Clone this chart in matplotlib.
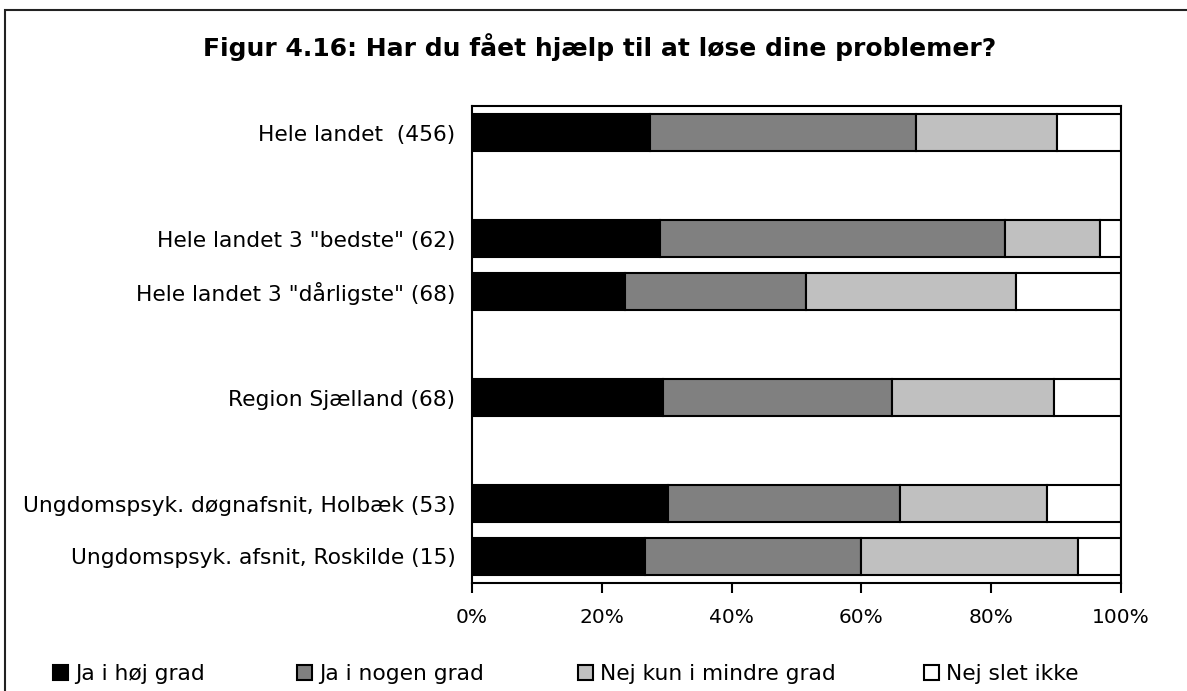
import matplotlib
matplotlib.use("Agg")
import matplotlib.pyplot as plt
from matplotlib.patches import Rectangle

# rows from top to bottom, empty strings are spacer rows
labels = ["Hele landet  (456)", "", 'Hele landet 3 "bedste" (62)',
          'Hele landet 3 "dårligste" (68)', "", "Region Sjælland (68)", "",
          "Ungdomspsyk. døgnafsnit, Holbæk (53)",
          "Ungdomspsyk. afsnit, Roskilde (15)"]
ja_hoej = [27.5, 0, 29.0, 23.5, 0, 29.4, 0, 30.2, 26.7]
ja_nogen = [40.9, 0, 53.2, 27.9, 0, 35.3, 0, 35.8, 33.3]
nej_mindre = [21.7, 0, 14.5, 32.4, 0, 25.0, 0, 22.6, 33.3]
nej_slet = [9.9, 0, 3.3, 16.2, 0, 10.3, 0, 11.4, 6.7]
series_names = ["Ja i høj grad", "Ja i nogen grad", "Nej kun i mindre grad", "Nej slet ikke"]
colors = ["#000000", "#808080", "#c0c0c0", "#ffffff"]
xticks = [0, 20, 40, 60, 80, 100]

plt.rcParams["font.family"] = ["DejaVu Sans"]

fig = plt.figure(figsize=(11.87, 6.91), dpi=100)
ax = fig.add_axes([472 / 1187, 1 - 583 / 691, 649 / 1187, 477 / 691])

rows = [i for i, l in enumerate(labels) if l]
left = [0.0] * len(labels)
handles = []
for vals, name, col in zip([ja_hoej, ja_nogen, nej_mindre, nej_slet], series_names, colors):
    widths = [vals[i] for i in rows]
    lefts = [left[i] for i in rows]
    h = ax.barh(rows, widths, left=lefts, height=0.68, color=col,
                edgecolor="black", linewidth=1.5, label=name)
    handles.append(h)
    for i in rows:
        left[i] += vals[i]

ax.set_ylim(len(labels) - 0.5, -0.5)
ax.set_xlim(0, 100)
ax.set_yticks(range(len(labels)))
ax.set_yticklabels(labels, fontsize=15.7)
ax.tick_params(axis="y", length=0, pad=12)
ax.set_xticks(xticks)
ax.set_xticklabels([f"{t}%" for t in xticks], fontsize=14.5)
ax.tick_params(axis="x", direction="out", length=7, width=1.5, pad=11)
for s in ax.spines.values():
    s.set_linewidth(1.5)

fig.text(600 / 1187, 1 - 47 / 691, "Figur 4.16: Har du fået hjælp til at løse dine problemer?",
         ha="center", va="center", fontsize=18, fontweight="bold")

# legend, one entry per position as in the original
leg_x = [53 / 1187, 297 / 1187, 578 / 1187, 924 / 1187]
for h, name, x in zip(handles, series_names, leg_x):
    fig.legend([h], [name], loc="center left", bbox_to_anchor=(x, 1 - 674 / 691),
               frameon=False, fontsize=15.7, handlelength=0.7, handleheight=0.7,
               handletextpad=0.3, borderaxespad=0, borderpad=0)

# outer frame of the chart
fig.patches.append(Rectangle((5 / 1187, -0.1), 1.2, 1.1 - 10 / 691,
                             transform=fig.transFigure, fill=False,
                             edgecolor="#222222", linewidth=1.5))

fig.savefig("out.png", dpi=100)
